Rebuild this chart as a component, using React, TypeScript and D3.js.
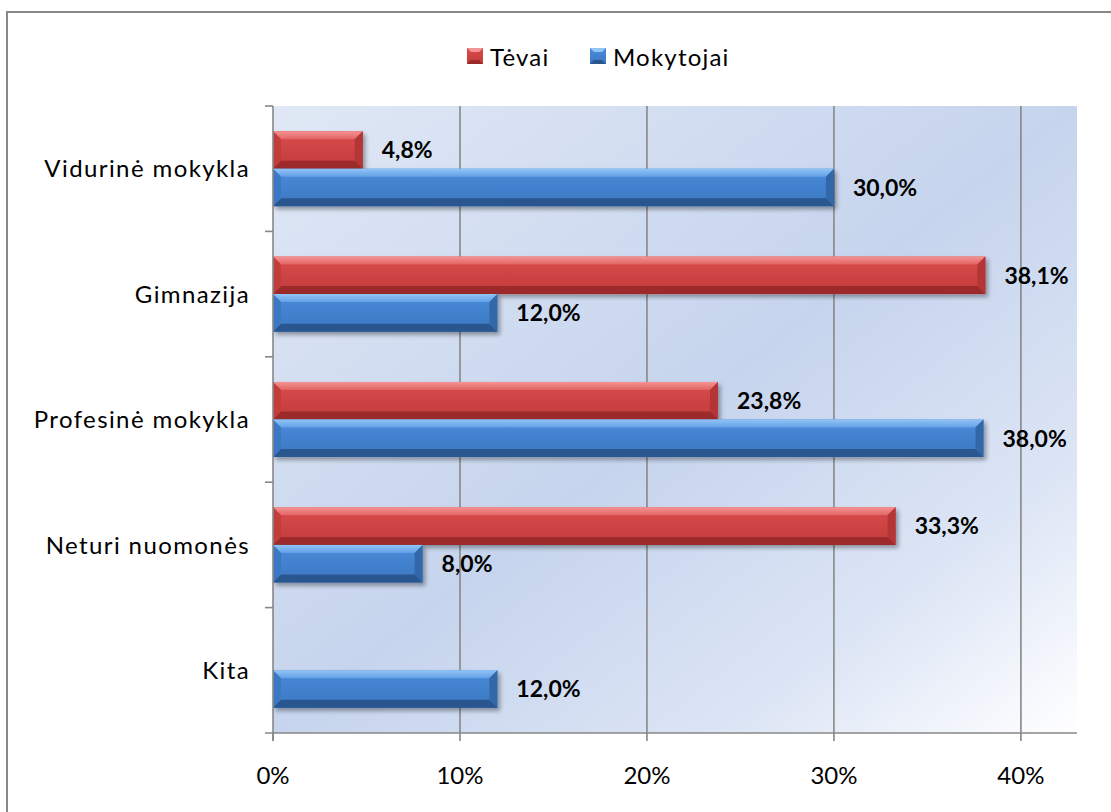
import React from "react";
import * as d3 from "d3";

const categories = ["Vidurinė mokykla", "Gimnazija", "Profesinė mokykla", "Neturi nuomonės", "Kita"];
const seriesNames = ["Tėvai", "Mokytojai"];
const tevai = [4.8, 38.1, 23.8, 33.3, 0];
const mokytojai = [30.0, 12.0, 38.0, 8.0, 12.0];
const xTicks = [0, 10, 20, 30, 40];

const W = 1111;
const H = 812;
const plot = { left: 273, right: 1077, top: 106, bottom: 733 };
const FONT = "Lato, 'Open Sans', sans-serif";

const palettes = [
  { top: "#f49393", topEnd: "#e26464", body1: "#d94b4b", body2: "#c23b3b", bottom: "#9c2a2a", cap: "#b33434" },
  { top: "#92c4f6", topEnd: "#62a0e6", body1: "#4a8bd9", body2: "#3b77c2", bottom: "#2a568f", cap: "#3368a8" },
];

function Bar({ x0, x1, y, h, p, id }: any) {
  const w = x1 - x0;
  if (w <= 0) return null;
  const b = Math.min(8, h * 0.22, w / 2);
  return (
    <g filter="url(#shadow)">
      <rect x={x0} y={y} width={w} height={h} fill={`url(#body${id})`} />
      <polygon points={`${x0},${y} ${x1},${y} ${x1 - b},${y + b} ${x0 + b},${y + b}`} fill={`url(#top${id})`} />
      <polygon points={`${x0},${y + h} ${x1},${y + h} ${x1 - b},${y + h - b} ${x0 + b},${y + h - b}`} fill={p.bottom} />
      <polygon points={`${x1},${y} ${x1},${y + h} ${x1 - b},${y + h - b} ${x1 - b},${y + b}`} fill={p.cap} />
      <polygon points={`${x0},${y} ${x0},${y + h} ${x0 + b},${y + h - b} ${x0 + b},${y + b}`} fill={p.body2} opacity={0.9} />
    </g>
  );
}

export default function App() {
  const x = d3.scaleLinear().domain([0, 43]).range([plot.left, plot.right]);
  const y = d3.scaleBand<string>().domain(categories).range([plot.top, plot.bottom]).paddingInner(0).paddingOuter(0);
  const inner = d3.scaleBand<number>().domain([0, 1]).range([0, y.bandwidth()]).paddingInner(0).paddingOuter(0.67);
  const series = [tevai, mokytojai];

  return (
    <svg width={W} height={H} style={{ position: "absolute", left: 0, top: 0, display: "block" }}>
      <defs>
        <linearGradient id="bg" x1="0" y1="0" x2="1" y2="1">
          <stop offset="0" stopColor="#e0e8f5" />
          <stop offset="0.5" stopColor="#c6d4ed" />
          <stop offset="0.78" stopColor="#dce5f5" />
          <stop offset="1" stopColor="#ffffff" />
        </linearGradient>
        {palettes.map((p, i) => (
          <React.Fragment key={i}>
            <linearGradient id={`body${i}`} x1="0" y1="0" x2="0" y2="1">
              <stop offset="0" stopColor={p.body1} />
              <stop offset="1" stopColor={p.body2} />
            </linearGradient>
            <linearGradient id={`top${i}`} x1="0" y1="0" x2="0" y2="1">
              <stop offset="0" stopColor={p.top} />
              <stop offset="1" stopColor={p.topEnd} />
            </linearGradient>
          </React.Fragment>
        ))}
        <filter id="shadow" x="-5%" y="-20%" width="115%" height="160%">
          <feDropShadow dx="2.5" dy="3" stdDeviation="2" floodColor="#000" floodOpacity="0.35" />
        </filter>
      </defs>

      <rect x={0} y={0} width={W} height={H} fill="#fff" />
      <rect x={7} y={12} width={W + 20} height={H + 20} fill="#fff" stroke="#888" strokeWidth={2} />

      <rect x={plot.left} y={plot.top} width={plot.right - plot.left} height={plot.bottom - plot.top} fill="url(#bg)" />

      {xTicks.slice(1).map((t) => (
        <line key={t} x1={x(t)} x2={x(t)} y1={plot.top} y2={plot.bottom} stroke="#878787" strokeWidth={1.6} />
      ))}

      {categories.map((c, ci) =>
        series.map((s, si) => {
          const v = s[ci];
          const yy = (y(c) as number) + (inner(si) as number);
          const h = inner.bandwidth();
          return (
            <g key={`${ci}-${si}`}>
              <Bar x0={x(0)} x1={x(v)} y={yy} h={h} p={palettes[si]} id={si} />
              {v > 0 && (
                <text x={x(v) + 19} y={yy + h / 2} dy="0.36em" fontFamily={FONT} fontWeight={700} fontSize={23} fill="#000">
                  {d3.format(".1f")(v).replace(".", ",")}%
                </text>
              )}
            </g>
          );
        })
      )}

      {/* axes */}
      <line x1={plot.left} x2={plot.left} y1={plot.top} y2={plot.bottom + 8} stroke="#878787" strokeWidth={1.6} />
      <line x1={plot.left - 8} x2={plot.right} y1={plot.bottom} y2={plot.bottom} stroke="#878787" strokeWidth={1.6} />
      {xTicks.map((t) => (
        <line key={`xt${t}`} x1={x(t)} x2={x(t)} y1={plot.bottom} y2={plot.bottom + 8} stroke="#878787" strokeWidth={1.6} />
      ))}
      {categories.map((c) => (
        <line key={`yt${c}`} x1={plot.left - 8} x2={plot.left} y1={y(c) as number} y2={y(c) as number} stroke="#878787" strokeWidth={1.6} />
      ))}

      {xTicks.map((t) => (
        <text key={`xl${t}`} x={x(t)} y={784} textAnchor="middle" fontFamily={FONT} fontSize={24} fill="#000">
          {t}%
        </text>
      ))}
      {categories.map((c) => (
        <text key={`yl${c}`} x={250} y={(y(c) as number) + y.bandwidth() / 2} dy="0.36em" textAnchor="end" fontFamily={FONT} fontSize={24} fill="#000" letterSpacing={1.4}>
          {c}
        </text>
      ))}

      {/* legend */}
      {seriesNames.map((n, i) => {
        const lx = i === 0 ? 467 : 590;
        const p = palettes[i];
        return (
          <g key={n}>
            <rect x={lx} y={48} width={16} height={16} fill={`url(#body${i})`} />
            <polygon points={`${lx},48 ${lx + 16},48 ${lx + 12},52 ${lx + 4},52`} fill={p.top} />
            <polygon points={`${lx},64 ${lx + 16},64 ${lx + 12},60 ${lx + 4},60`} fill={p.bottom} />
            <text x={lx + 23} y={57} dy="0.36em" fontFamily={FONT} fontSize={24} fill="#000" letterSpacing={1.2}>
              {n}
            </text>
          </g>
        );
      })}
    </svg>
  );
}
